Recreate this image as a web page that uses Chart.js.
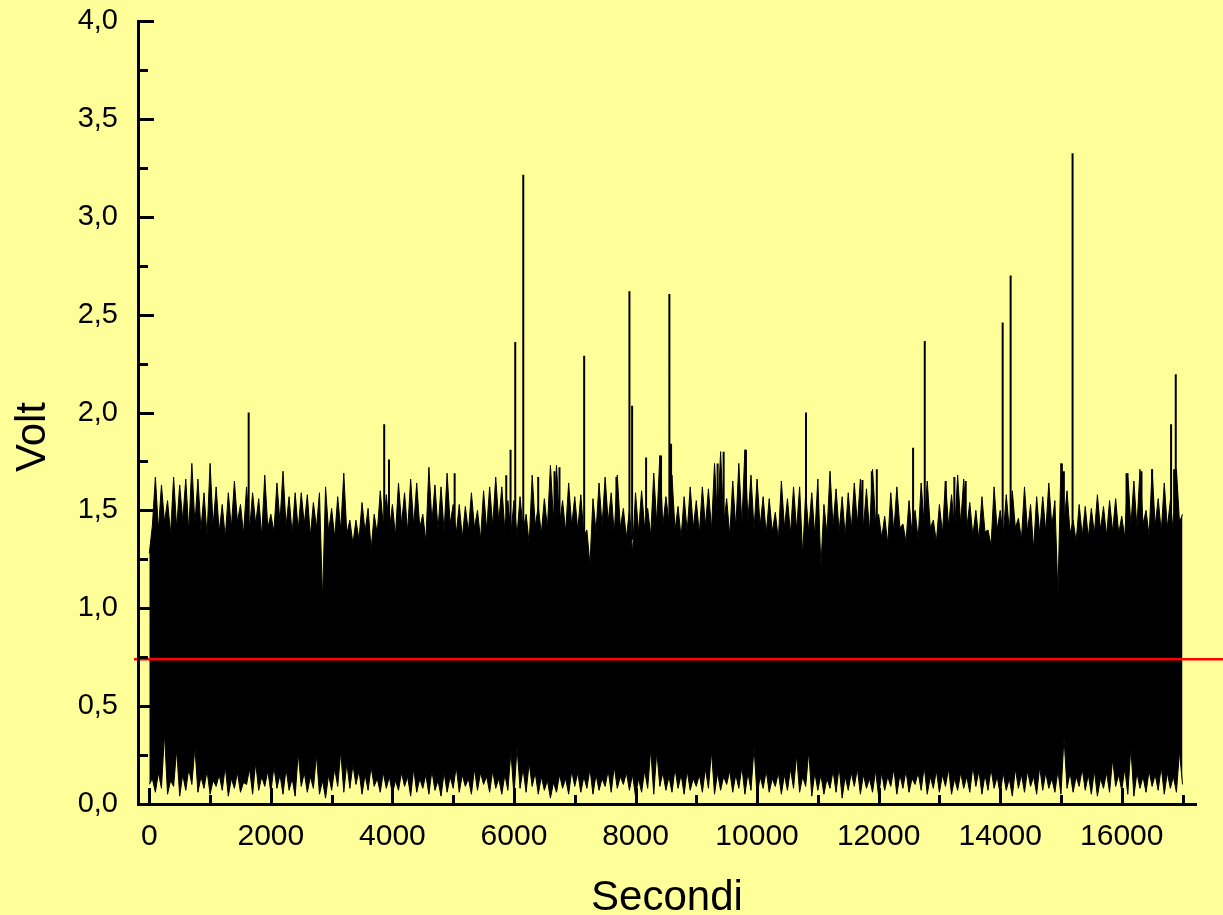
<!DOCTYPE html>
<html>
<head>
<meta charset="utf-8">
<script src="https://cdn.jsdelivr.net/npm/chart.js@4.4.1/dist/chart.umd.min.js"></script>
<style>
  html, body { margin: 0; padding: 0; background: #ffff99; }
  #wrap { width: 1223px; height: 915px; }
</style>
</head>
<body>
<div id="wrap"><canvas id="chart" width="1223" height="915"></canvas></div>
<script>
// Sampling step of the envelope arrays (seconds)
const binStep = 100;

// Upper edge of the trace: local maxima at 0, 100, 200 ... 17000 s
const upperPeak = [
  1.28, 1.67, 1.63, 1.55, 1.67, 1.63, 1.66, 1.74, 1.66, 1.59,
  1.74, 1.62, 1.53, 1.59, 1.65, 1.53, 1.62, 1.59, 1.56, 1.68,
  1.48, 1.64, 1.70, 1.57, 1.59, 1.59, 1.58, 1.54, 1.59, 1.62,
  1.51, 1.57, 1.69, 1.45, 1.45, 1.54, 1.51, 1.48, 1.60, 1.58,
  1.53, 1.64, 1.59, 1.66, 1.64, 1.48, 1.72, 1.63, 1.62, 1.69,
  1.53, 1.53, 1.52, 1.59, 1.50, 1.60, 1.62, 1.67, 1.62, 1.55,
  1.55, 1.57, 1.48, 1.68, 1.52, 1.56, 1.73, 1.73, 1.55, 1.64,
  1.57, 1.58, 1.40, 1.56, 1.64, 1.67, 1.59, 1.68, 1.51, 1.50,
  1.59, 1.60, 1.51, 1.69, 1.78, 1.57, 1.68, 1.52, 1.57, 1.62,
  1.55, 1.62, 1.61, 1.74, 1.80, 1.56, 1.65, 1.74, 1.81, 1.68,
  1.66, 1.57, 1.56, 1.49, 1.65, 1.56, 1.62, 1.62, 1.59, 1.59,
  1.66, 1.53, 1.70, 1.61, 1.57, 1.59, 1.64, 1.66, 1.61, 1.71,
  1.48, 1.47, 1.59, 1.62, 1.43, 1.55, 1.50, 1.64, 1.65, 1.45,
  1.53, 1.65, 1.58, 1.68, 1.66, 1.54, 1.50, 1.57, 1.40, 1.62,
  1.50, 1.58, 1.60, 1.46, 1.62, 1.53, 1.57, 1.57, 1.64, 1.55,
  1.74, 1.60, 1.45, 1.53, 1.52, 1.51, 1.58, 1.52, 1.55, 1.56,
  1.47, 1.69, 1.65, 1.71, 1.50, 1.71, 1.56, 1.64, 1.55, 1.71,
  1.48
];

// Upper edge between the maxima (solid part of the band) at 50, 150 ... 16950 s
const upperCore = [
  1.42, 1.40, 1.44, 1.38, 1.41, 1.45, 1.39, 1.43, 1.40, 1.37,
  1.42, 1.39, 1.36, 1.41, 1.44, 1.38, 1.40, 1.43, 1.37, 1.41,
  1.39, 1.44, 1.42, 1.38, 1.40, 1.43, 1.37, 1.41, 1.04, 1.39,
  1.36, 1.40, 1.38, 1.33, 1.35, 1.39, 1.30, 1.38, 1.42, 1.40,
  1.37, 1.43, 1.39, 1.42, 1.41, 1.34, 1.44, 1.40, 1.39, 1.43,
  1.38, 1.36, 1.39, 1.41, 1.35, 1.40, 1.42, 1.44, 1.40, 1.38,
  1.37, 1.40, 1.33, 1.42, 1.38, 1.41, 1.45, 1.43, 1.39, 1.42,
  1.40, 1.37, 1.22, 1.39, 1.42, 1.44, 1.38, 1.41, 1.36, 1.28,
  1.39, 1.41, 1.37, 1.43, 1.42, 1.44, 1.40, 1.36, 1.39, 1.41,
  1.38, 1.42, 1.40, 1.44, 1.43, 1.37, 1.41, 1.43, 1.45, 1.40,
  1.42, 1.38, 1.39, 1.35, 1.41, 1.38, 1.40, 1.27, 1.39, 1.37,
  1.21, 1.38, 1.42, 1.39, 1.37, 1.40, 1.43, 1.41, 1.39, 1.44,
  1.36, 1.33, 1.39, 1.41, 1.34, 1.38, 1.35, 1.42, 1.41, 1.34,
  1.38, 1.42, 1.39, 1.43, 1.41, 1.37, 1.35, 1.39, 1.32, 1.40,
  1.37, 1.40, 1.41, 1.35, 1.39, 1.30, 1.38, 1.39, 1.42, 1.07,
  1.43, 1.38, 1.34, 1.37, 1.36, 1.38, 1.40, 1.37, 1.39, 1.38,
  1.36, 1.42, 1.41, 1.43, 1.37, 1.42, 1.39, 1.41, 1.38, 1.44
];

// Lower edge of the trace: local minima at 0, 100 ... 17000 s
const lowerMin = [
  0.10, 0.06, 0.08, 0.05, 0.09, 0.04, 0.07, 0.10, 0.06, 0.08,
  0.05, 0.09, 0.07, 0.04, 0.08, 0.06, 0.10, 0.05, 0.07, 0.09,
  0.06, 0.08, 0.05, 0.07, 0.04, 0.09, 0.06, 0.08, 0.05, 0.03,
  0.07, 0.09, 0.06, 0.08, 0.10, 0.05, 0.07, 0.09, 0.06, 0.08,
  0.05, 0.07, 0.09, 0.04, 0.06, 0.08, 0.05, 0.07, 0.04, 0.06,
  0.08, 0.06, 0.09, 0.05, 0.07, 0.10, 0.06, 0.08, 0.05, 0.07,
  0.04, 0.08, 0.06, 0.09, 0.05, 0.07, 0.03, 0.06, 0.08, 0.05,
  0.09, 0.06, 0.08, 0.05, 0.07, 0.09, 0.06, 0.08, 0.10, 0.07,
  0.04, 0.06, 0.08, 0.05, 0.09, 0.07, 0.06, 0.08, 0.05, 0.07,
  0.09, 0.06, 0.08, 0.05, 0.07, 0.10, 0.06, 0.08, 0.05, 0.07,
  0.04, 0.08, 0.06, 0.09, 0.05, 0.07, 0.08, 0.06, 0.09, 0.04,
  0.07, 0.05, 0.08, 0.06, 0.03, 0.07, 0.09, 0.05, 0.08, 0.06,
  0.04, 0.07, 0.09, 0.05, 0.08, 0.06, 0.10, 0.07, 0.05, 0.08,
  0.06, 0.09, 0.05, 0.07, 0.08, 0.06, 0.09, 0.05, 0.07, 0.08,
  0.05, 0.07, 0.04, 0.08, 0.06, 0.09, 0.05, 0.07, 0.08, 0.06,
  0.05, 0.08, 0.06, 0.09, 0.07, 0.05, 0.04, 0.08, 0.06, 0.09,
  0.07, 0.05, 0.04, 0.08, 0.06, 0.09, 0.07, 0.05, 0.08, 0.06,
  0.10
];

// Lower edge between the minima at 50, 150 ... 16950 s
const lowerCore = [
  0.13, 0.16, 0.36, 0.12, 0.28, 0.15, 0.18, 0.29, 0.14, 0.17,
  0.12, 0.15, 0.19, 0.13, 0.16, 0.11, 0.18, 0.21, 0.14, 0.17,
  0.19, 0.15, 0.18, 0.13, 0.26, 0.16, 0.14, 0.25, 0.12, 0.15,
  0.18, 0.27, 0.21, 0.20, 0.17, 0.15, 0.19, 0.13, 0.16, 0.14,
  0.12, 0.16, 0.14, 0.18, 0.13, 0.15, 0.17, 0.12, 0.16, 0.14,
  0.19, 0.15, 0.13, 0.18, 0.16, 0.14, 0.17, 0.13, 0.15, 0.27,
  0.29, 0.18, 0.21, 0.16, 0.14, 0.12, 0.11, 0.15, 0.13, 0.17,
  0.16, 0.14, 0.18, 0.15, 0.13, 0.17, 0.19, 0.14, 0.16, 0.15,
  0.13, 0.17, 0.28, 0.27, 0.16, 0.14, 0.18, 0.15, 0.17, 0.13,
  0.15, 0.18, 0.27, 0.16, 0.14, 0.17, 0.15, 0.19, 0.16, 0.29,
  0.14, 0.17, 0.13, 0.16, 0.15, 0.18, 0.25, 0.14, 0.27, 0.16,
  0.15, 0.13, 0.17, 0.19, 0.14, 0.16, 0.18, 0.15, 0.13, 0.17,
  0.16, 0.14, 0.18, 0.15, 0.17, 0.13, 0.16, 0.19, 0.14, 0.17,
  0.15, 0.18, 0.13, 0.16, 0.14, 0.19, 0.17, 0.15, 0.18, 0.14,
  0.16, 0.13, 0.18, 0.15, 0.17, 0.14, 0.19, 0.16, 0.13, 0.17,
  0.34, 0.16, 0.14, 0.18, 0.15, 0.17, 0.13, 0.16, 0.23, 0.15,
  0.18, 0.29, 0.16, 0.14, 0.17, 0.15, 0.19, 0.16, 0.14, 0.27
];

// Isolated spikes: time (s) and peak (V)
const spikeTimes = [1635, 3865, 3944, 5024, 5873, 5944, 6021, 6153, 6399, 6667, 6749,
  7155, 7686, 7900, 7944, 8174, 8420, 8557, 8585, 9351, 9450, 9817, 10805, 11734,
  11888, 11970, 12567, 12759, 13104, 13246, 13433, 14041, 14172, 15015, 15048,
  15191, 16079, 16325, 16500, 16812, 16862, 16889];
const spikePeaks = [2.00, 1.94, 1.76, 1.69, 1.68, 1.81, 2.36, 3.215, 1.67, 1.70, 1.72,
  2.29, 1.67, 2.62, 2.035, 1.77, 1.78, 2.605, 1.84, 1.74, 1.80, 1.81, 2.00, 1.655,
  1.70, 1.71, 1.82, 2.365, 1.65, 1.67, 1.65, 2.46, 2.70, 1.74, 1.70,
  3.325, 1.69, 1.70, 1.71, 1.94, 1.71, 2.195];
const spikeBase = 1.35;

// Mean level (red line)
const meanVolt = 0.74;

// Axis ticks and titles
const xMajorTicks = [0, 2000, 4000, 6000, 8000, 10000, 12000, 14000, 16000];
const xMinorTicks = [1000, 3000, 5000, 7000, 9000, 11000, 13000, 15000, 17000];
const yMajorTicks = [0, 0.5, 1.0, 1.5, 2.0, 2.5, 3.0, 3.5, 4.0];
const yMinorTicks = [0.25, 0.75, 1.25, 1.75, 2.25, 2.75, 3.25, 3.75];
const xTitle = 'Secondi';
const yTitle = 'Volt';

const FONT = "'Liberation Sans', Arial, Helvetica, sans-serif";

function envelope(peaks, cores) {
  const pts = [];
  peaks.forEach((v, i) => {
    pts.push({ x: i * binStep, y: v });
    if (i < cores.length) pts.push({ x: i * binStep + binStep / 2, y: cores[i] });
  });
  return pts;
}

const spikePts = [];
spikeTimes.forEach((t, i) => {
  spikePts.push({ x: t, y: spikeBase }, { x: t, y: spikePeaks[i] }, { x: t, y: null });
});

const background = {
  id: 'background',
  beforeDraw(chart) {
    const ctx = chart.ctx;
    ctx.save();
    ctx.fillStyle = '#ffff99';
    ctx.fillRect(0, 0, chart.width, chart.height);
    ctx.restore();
  }
};

const meanLine = {
  id: 'meanLine',
  afterDatasetsDraw(chart) {
    const { ctx, chartArea, scales } = chart;
    const py = scales.y.getPixelForValue(meanVolt);
    ctx.save();
    ctx.strokeStyle = '#ff0000';
    ctx.lineWidth = 2.5;
    ctx.beginPath();
    ctx.moveTo(chartArea.left - 4, py);
    ctx.lineTo(chart.width, py);
    ctx.stroke();
    ctx.restore();
  }
};

// inward tick marks + axis titles, placed like the original plot
const axisDecor = {
  id: 'axisDecor',
  afterDraw(chart) {
    const { ctx, chartArea: a, scales: { x, y } } = chart;
    ctx.save();
    ctx.strokeStyle = '#000';
    ctx.lineWidth = 3;
    ctx.beginPath();
    const xt = (list, len) => list.forEach(v => {
      const px = Math.round(x.getPixelForValue(v)) + 0.5;
      ctx.moveTo(px, a.bottom);
      ctx.lineTo(px, a.bottom - len);
    });
    const yt = (list, len) => list.forEach(v => {
      const py = Math.round(y.getPixelForValue(v)) + 0.5;
      ctx.moveTo(a.left, py);
      ctx.lineTo(a.left + len, py);
    });
    xt(xMajorTicks, 16);
    xt(xMinorTicks, 9);
    yt(yMajorTicks, 16);
    yt(yMinorTicks, 10);
    ctx.stroke();

    ctx.fillStyle = '#000';
    ctx.font = '42px ' + FONT;
    ctx.textAlign = 'center';
    ctx.textBaseline = 'alphabetic';
    ctx.fillText(xTitle, (a.left + a.right) / 2, 910);
    ctx.translate(45, 437);
    ctx.rotate(-Math.PI / 2);
    ctx.fillText(yTitle, 0, 0);
    ctx.restore();
  }
};

new Chart(document.getElementById('chart'), {
  type: 'line',
  data: {
    datasets: [
      {
        label: 'upper',
        data: envelope(upperPeak, upperCore),
        borderColor: '#000',
        borderWidth: 1,
        backgroundColor: '#000',
        fill: '+1',
        pointRadius: 0,
        tension: 0
      },
      {
        label: 'lower',
        data: envelope(lowerMin, lowerCore),
        borderColor: '#000',
        borderWidth: 1,
        pointRadius: 0,
        fill: false,
        tension: 0
      },
      {
        label: 'spikes',
        data: spikePts,
        borderColor: '#000',
        borderWidth: 2,
        pointRadius: 0,
        fill: false,
        spanGaps: false
      }
    ]
  },
  options: {
    responsive: false,
    animation: false,
    devicePixelRatio: 1,
    layout: { padding: { top: 21, right: 27, left: 0, bottom: 0 } },
    plugins: {
      legend: { display: false },
      tooltip: { enabled: false }
    },
    scales: {
      x: {
        type: 'linear',
        min: -186,
        max: 17222,
        afterBuildTicks: s => { s.ticks = xMajorTicks.map(v => ({ value: v })); },
        afterFit: s => {
          s.height = 111;
          s.paddingLeft = 0;
          s.paddingRight = 0;
        },
        grid: { display: false, drawTicks: false },
        border: { display: true, color: '#000', width: 3, z: 1 },
        ticks: {
          color: '#000',
          font: { family: FONT, size: 30 },
          padding: 15,
          maxRotation: 0,
          autoSkip: false,
          callback: v => String(v)
        }
      },
      y: {
        min: 0,
        max: 4,
        afterBuildTicks: s => { s.ticks = yMajorTicks.map(v => ({ value: v })); },
        afterFit: s => {
          s.width = 138;
          s.paddingTop = 0;
          s.paddingBottom = 0;
        },
        grid: { display: false, drawTicks: false },
        border: { display: true, color: '#000', width: 3, z: 1 },
        ticks: {
          color: '#000',
          font: { family: FONT, size: 29 },
          padding: 20,
          autoSkip: false,
          callback: v => v.toFixed(1).replace('.', ',')
        }
      }
    }
  },
  plugins: [background, meanLine, axisDecor]
});
</script>
</body>
</html>
